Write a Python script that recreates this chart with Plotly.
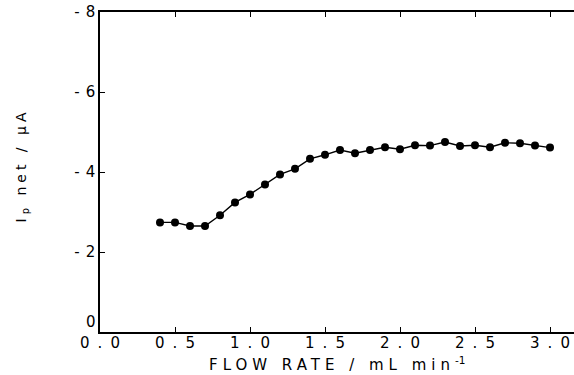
import plotly.graph_objects as go

flow_rate = [0.4, 0.5, 0.6, 0.7, 0.8, 0.9, 1.0, 1.1, 1.2, 1.3, 1.4, 1.5, 1.6, 1.7,
             1.8, 1.9, 2.0, 2.1, 2.2, 2.3, 2.4, 2.5, 2.6, 2.7, 2.8, 2.9, 3.0]
ip_net = [-2.74, -2.74, -2.65, -2.65, -2.92, -3.24, -3.44, -3.69, -3.94, -4.08, -4.33,
          -4.43, -4.55, -4.47, -4.55, -4.62, -4.57, -4.67, -4.66, -4.75, -4.65, -4.67,
          -4.62, -4.73, -4.72, -4.66, -4.61]
x_ticks = [0.0, 0.5, 1.0, 1.5, 2.0, 2.5, 3.0]
x_ticklabels = ["0.0", "0.5", "1.0", "1.5", "2.0", "2.5", "3.0"]
y_ticks = [0, -2, -4, -6, -8]
y_ticklabels = ["0", "-2", "-4", "-6", "-8"]
x_title = "FLOW RATE / mL min"
y_title = "net / μA"

FONT = "DejaVu Sans"


def spaced(text, px):
    # letter spacing on all but the last character so centering stays true
    if len(text) <= 1:
        return text
    return '<span style="letter-spacing:%dpx">%s</span>%s' % (px, text[:-1], text[-1])


fig = go.Figure()
fig.add_trace(go.Scatter(
    x=flow_rate, y=ip_net, mode="lines+markers",
    line=dict(color="black", width=1.4),
    marker=dict(color="black", size=8),
    showlegend=False,
))

fig.update_layout(
    width=574, height=375,
    margin=dict(l=100, r=0, t=12, b=43),
    paper_bgcolor="white", plot_bgcolor="white",
    font=dict(family=FONT, color="black", size=15),
    xaxis=dict(
        range=[0, 3.16], tickvals=x_ticks, ticktext=[spaced(t, 8) for t in x_ticklabels],
        ticks="inside", ticklen=5, tickwidth=1.2, tickcolor="black",
        showline=True, linecolor="black", linewidth=1.6, mirror="ticks",
        showgrid=False, zeroline=False, tickfont=dict(size=15),
        ticklabelstandoff=-4,
    ),
    yaxis=dict(
        range=[0, -8], tickvals=y_ticks,
        ticktext=[""] + [spaced(t, 6) for t in y_ticklabels[1:]],
        ticks="inside", ticklen=5, tickwidth=1.2, tickcolor="black",
        showline=True, linecolor="black", linewidth=1.6, mirror=False,
        showgrid=False, zeroline=False, tickfont=dict(size=15),
    ),
    annotations=[
        dict(text=y_ticklabels[0], xref="paper", yref="y", x=-0.005, y=-0.25,
             xanchor="right", yanchor="middle", showarrow=False, font=dict(size=15)),
        dict(text='<span style="letter-spacing:5px">%s</span><sup>-1</sup>' % x_title,
             xref="paper", yref="paper", x=0.5, y=-0.1, yanchor="middle",
             showarrow=False, font=dict(size=15)),
        dict(text='<span style="letter-spacing:4px">I<sub>p</sub> %s</span>' % y_title,
             xref="paper", yref="paper", x=-0.165, xanchor="center", y=0.52,
             yanchor="middle", textangle=-90, showarrow=False, font=dict(size=14)),
    ],
)

fig.write_html("out.html")
